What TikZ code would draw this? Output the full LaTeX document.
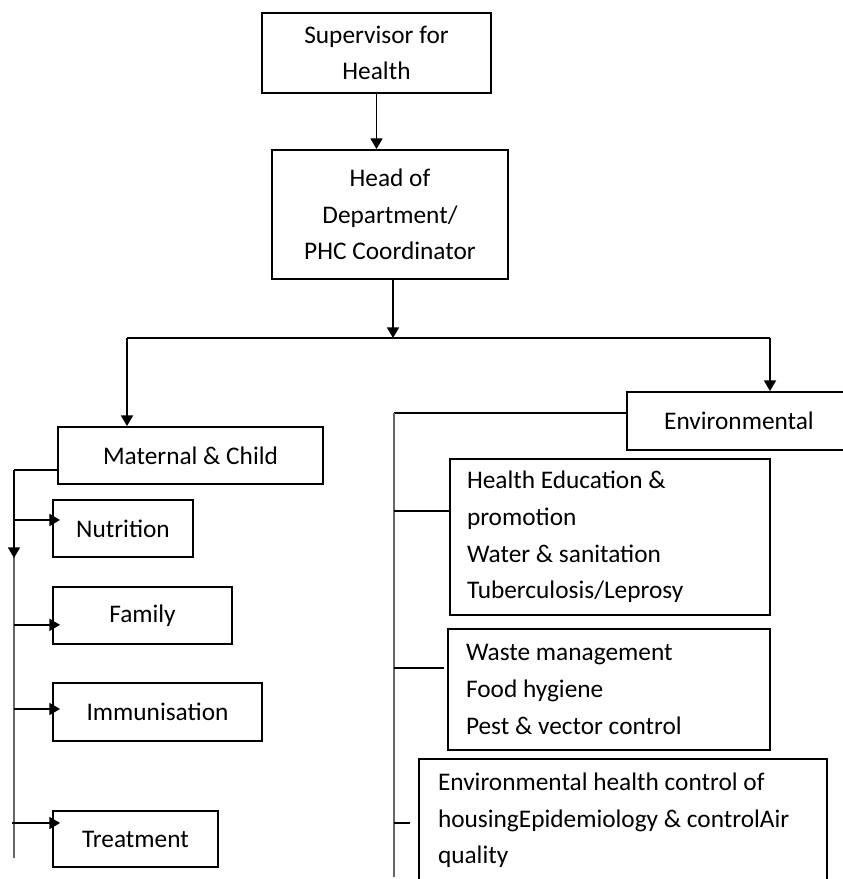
\documentclass[tikz,border=0pt]{standalone}
\usepackage{fontspec}
\setmainfont{Carlito}
\usetikzlibrary{arrows.meta}
\tikzset{
  x=0.75pt, y=-0.75pt,
  box/.style={draw=black, line width=1.4pt, inner sep=0pt, font=\fontsize{19}{27.5}\selectfont},
  cbox/.style={box, align=center},
  lbox/.style={box, align=flush left},
  link/.style={draw=black, line width=1.3pt},
  spine/.style={draw=black!60, line width=1.6pt},
  arr/.style={-{Triangle[length=8pt,width=9pt]}},
}
\begin{document}
\begin{tikzpicture}
\clip (0,0) rectangle (843,879);
\fill[white] (0,0) rectangle (843,879);

% top chain
\node[cbox, minimum width=171.75pt, minimum height=60pt] (sup) at (376.5,53) {Supervisor for\\Health};
\node[cbox, minimum width=177pt, minimum height=96.75pt] (head) at (390,214.5) {Head of\\Department/\\PHC Coordinator};
\draw[link, arr] (sup.south) -- (sup.south |- head.north);

% second level
\node[cbox, minimum width=198.75pt, minimum height=42.75pt] (mat) at (190.5,455.5) {Maternal \& Child};
\node[cbox, minimum width=168pt, minimum height=43.5pt] (env) at (739,421) {Environmental};

\coordinate (bus) at (393,338);
\coordinate (busL) at (127,338);
\coordinate (busR) at (770,338);
\draw[link, arr] (head.south -| bus) -- (bus);
\draw[link] (busL) -- (busR);
\draw[link, arr] (busL) -- (busL |- mat.north);
\draw[link, arr] (busR) -- (busR |- env.north);

% environmental branch
\node[lbox, minimum width=240pt, minimum height=117pt, text width=214.5pt] (hed) at (610,537)
  {Health Education \&\\promotion\\Water \& sanitation\\Tuberculosis/Leprosy};
\node[lbox, minimum width=241.5pt, minimum height=90.75pt, text width=214.5pt] (waste) at (609,689.5)
  {Waste management\\Food hygiene\\Pest \& vector control};
\node[lbox, minimum width=306pt, minimum height=92.25pt, text width=277.5pt] (ehc) at (623,820.5)
  {Environmental health control of\\housingEpidemiology \& controlAir\\quality};

\coordinate (rtop) at (394,413);
\coordinate (rend) at (394,877);
\draw[link] ([yshift=6pt]env.west) -- (rtop);
\draw[spine] (rtop) -- (rend);
\coordinate (hedin) at ([yshift=19.5pt]hed.west);
\coordinate (wastein) at ([yshift=16pt,xshift=-2.25pt]waste.west);
\coordinate (ehcin) at ([yshift=-1.9pt,xshift=-6pt]ehc.west);
\draw[link] (rtop |- hedin) -- (hedin);
\draw[link] (rtop |- wastein) -- (wastein);
\draw[link] (rtop |- ehcin) -- (ehcin);

% maternal branch
\node[cbox, minimum width=105pt, minimum height=42.75pt] (nut) at (123,528.5) {Nutrition};
\node[cbox, minimum width=134.25pt, minimum height=42.75pt] (fam) at (142.5,615.5) {Family};
\node[cbox, minimum width=156.75pt, minimum height=43.5pt] (imm) at (157.5,712) {Immunisation};
\node[cbox, minimum width=123.75pt, minimum height=42pt] (tre) at (135.5,839) {Treatment};

\coordinate (ltop) at (14,470);
\coordinate (lmid) at (14,558);
\coordinate (lend) at (14,858);
\draw[link] ([yshift=-10.9pt]mat.west) -- (ltop);
\draw[spine] (ltop) -- (lend);
\draw[link, arr] (ltop) -- (lmid);

\coordinate (nutin) at ([yshift=6.4pt,xshift=6pt]nut.west);
\coordinate (famin) at ([yshift=-7pt,xshift=6pt]fam.west);
\coordinate (immin) at ([yshift=2.25pt,xshift=6pt]imm.west);
\coordinate (trein) at ([yshift=12pt,xshift=6pt]tre.west);
\draw[link, arr] (ltop |- nutin) -- (nutin);
\draw[link, arr] (ltop |- famin) -- (famin);
\draw[link, arr] (ltop |- immin) -- (immin);
\draw[link, arr] ([xshift=-1.5pt]ltop |- trein) -- (trein);
\end{tikzpicture}
\end{document}
